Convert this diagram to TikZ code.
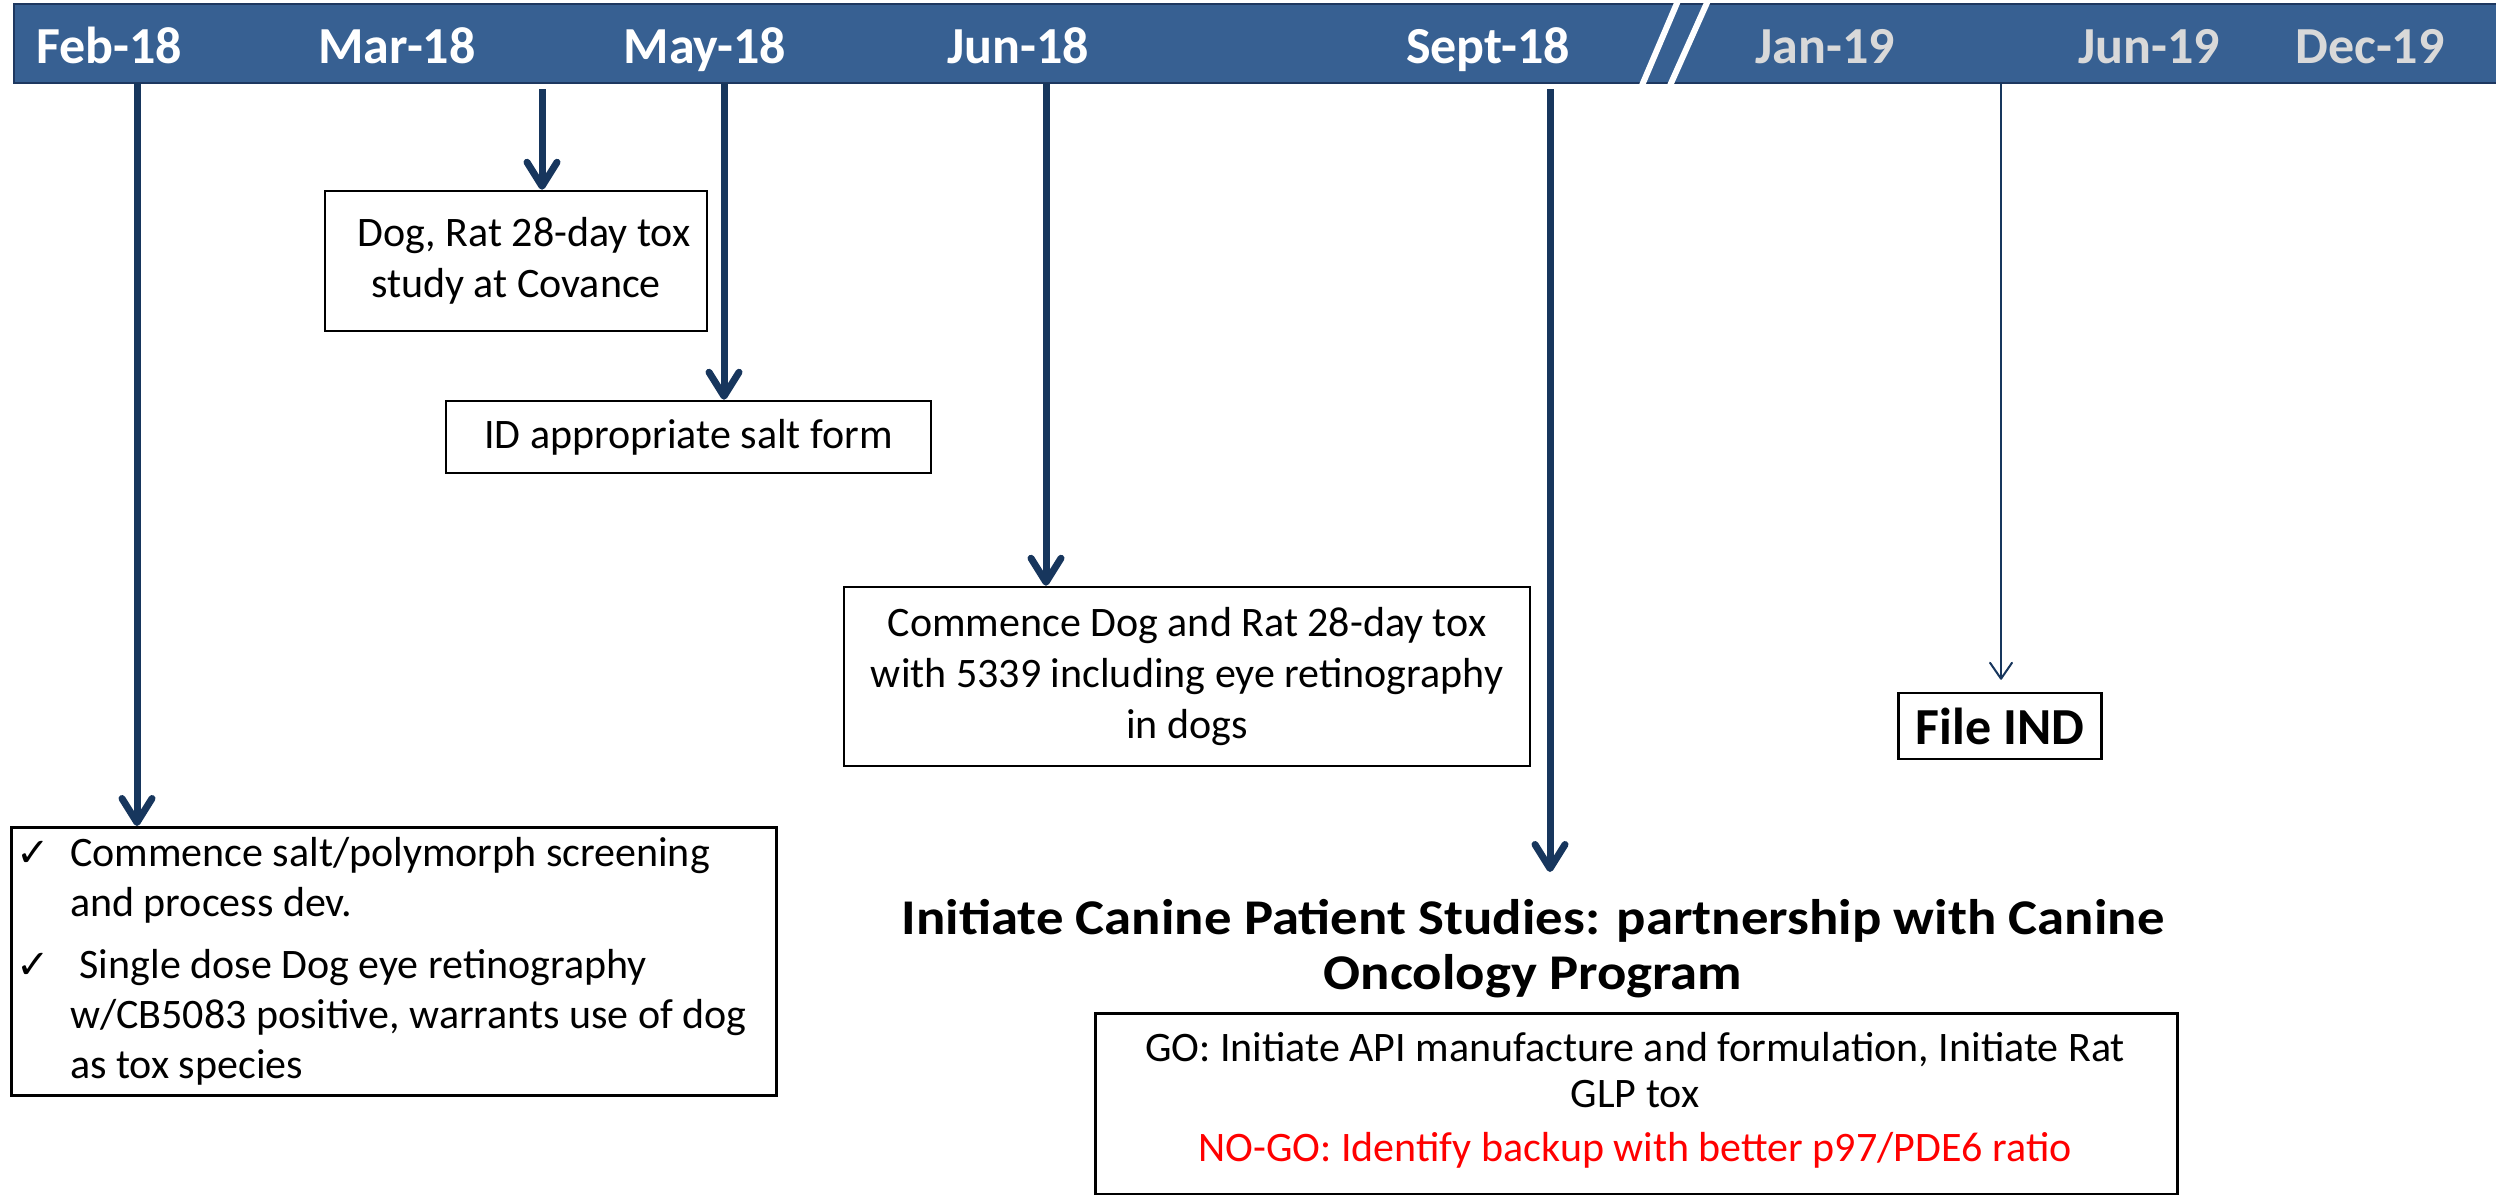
\documentclass[tikz,border=0pt]{standalone}
\usepackage{fontspec}
\setmainfont{Carlito}
\newfontfamily\dejavu{DejaVu Sans}
\usetikzlibrary{arrows.meta}
\definecolor{barblue}{RGB}{55,96,146}
\definecolor{barline}{RGB}{30,56,96}
\definecolor{navy}{RGB}{23,54,93}
\definecolor{lgrey}{RGB}{217,217,217}
\newcommand{\chk}{\makebox[54pt][l]{\dejavu\fontsize{40}{50}\selectfont ✓}}
\begin{document}
\begin{tikzpicture}[x=1pt,y=-1pt,
  barlab/.style={anchor=base, text=white, font=\bfseries\fontsize{52}{60}\selectfont, inner sep=0},
  barlabg/.style={barlab, text=lgrey},
  evbox/.style={draw=black, line width=2.5pt, align=center, inner sep=0,
     font=\fontsize{42}{51}\selectfont},
  arr/.style={draw=navy, line width=7pt,
     -{Straight Barb[length=24pt, width=30pt, round]}},
  thinarr/.style={draw=navy, line width=2pt,
     -{Straight Barb[length=16pt, width=22pt, round]}}]
\useasboundingbox (0,0) rectangle (2496,1194);
% timeline bar
\draw[fill=barblue, draw=barline, line width=2pt] (14,4) rectangle (2510,83);
\draw[white, line width=6pt] (1640,90) -- (1680,-4);
\draw[white, line width=6pt] (1668,90) -- (1710,-4);
\node[barlab]  (lfeb)  at (109,63)  {Feb-18};
\node[barlab]  (lmar)  at (397,63)  {Mar-18};
\node[barlab]  (lmay)  at (705,63)  {May-18};
\node[barlab]  (ljun)  at (1018,63) {Jun-18};
\node[barlab]  (lsep)  at (1488,63) {Sept-18};
\node[barlabg] (ljan)  at (1825,63) {Jan-19};
\node[barlabg] (ljun9) at (2149,63) {Jun-19};
\node[barlabg] (ldec)  at (2370,63) {Dec-19};
% start points
\coordinate (febtop) at (137,83);
\coordinate (martop) at (542,89);
\coordinate (maytop) at (724,83);
\coordinate (juntop) at (1046,83);
\coordinate (septop) at (1550,89);
\coordinate (j19top) at (2001,83);
\coordinate (septip) at (1550,872);
% boxes
\node[evbox, minimum width=382, minimum height=140] (dogbox) at (516,261)
  {\hspace*{16pt}Dog, Rat 28-day tox\\study at Covance};
\node[evbox, minimum width=485, minimum height=72] (saltbox) at (688.5,437)
  {ID appropriate salt form};
\node[evbox, minimum width=686, minimum height=179] (junbox) at (1187,676.5)
  {Commence Dog and Rat 28-day tox\\with 5339 including eye retinography\\in dogs};
\node[evbox, minimum width=203, minimum height=66, font=\bfseries\fontsize{52}{60}\selectfont] (filebox) at (2000,726)
  {File IND};
\node[draw=black, line width=2.5pt, inner sep=0, anchor=north west, minimum width=765, minimum height=268] (febbox) at (10,826) {};
\node[anchor=north west, align=left, inner sep=0, font=\fontsize{42}{50}\selectfont] (febtext) at (16,837)
  {\chk Commence salt/polymorph screening\\
   \hspace*{54pt}and process dev.\\[12pt]
   \chk\ Single dose Dog eye retinography\\
   \hspace*{54pt}w/CB5083 positive, warrants use of dog\\
   \hspace*{54pt}as tox species};
\node[inner sep=0, font=\bfseries\fontsize{50}{55}\selectfont] (title) at (1533,951)
  {\scalebox{1.095}[1]{\begin{tabular}{@{}c@{}}Initiate Canine Patient Studies: partnership with Canine\\Oncology Program\end{tabular}}};
\node[draw=black, line width=2.5pt, inner sep=0, anchor=north west, minimum width=1082, minimum height=181] (gobox) at (1094,1012) {};
\node[align=center, inner sep=0, font=\fontsize{42}{46}\selectfont] (gotext) at (1635,1100)
  {GO: Initiate API manufacture and formulation, Initiate Rat\\GLP tox\\[8pt]
   \textcolor{red}{NO-GO: Identify backup with better p97/PDE6 ratio}};
% arrows
\draw[arr] (febtop) -- (febtop |- febbox.north);
\draw[arr] (martop) -- (martop |- dogbox.north);
\draw[arr] (maytop) -- (maytop |- saltbox.north);
\draw[arr] (juntop) -- (juntop |- junbox.north);
\draw[arr] (septop) -- (septip);
\draw[thinarr, shorten >=12pt] (j19top) -- (j19top |- filebox.north);
\end{tikzpicture}
\end{document}
